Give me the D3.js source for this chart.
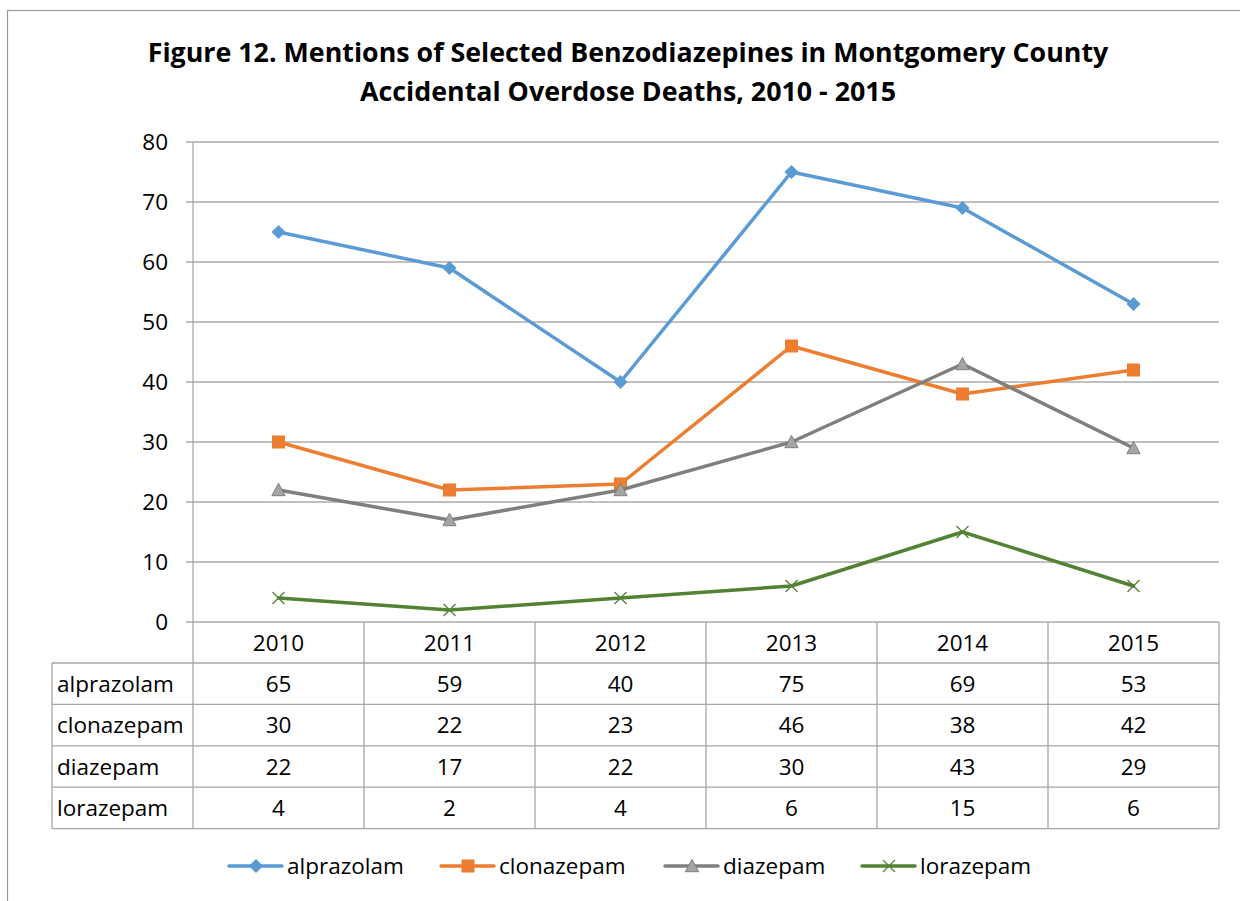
<!DOCTYPE html>
<html>
<head>
<meta charset="utf-8">
<script src="https://cdn.jsdelivr.net/npm/d3@7"></script>
<style>
  body { margin: 0; background: #fff; }
  svg text { font-family: "Open Sans", "Noto Sans", sans-serif; fill: #000; }
</style>
</head>
<body>
<div id="chart"></div>
<script>
// data
const years = ["2010", "2011", "2012", "2013", "2014", "2015"];
const seriesNames = ["alprazolam", "clonazepam", "diazepam", "lorazepam"];
const alprazolam = [65, 59, 40, 75, 69, 53];
const clonazepam = [30, 22, 23, 46, 38, 42];
const diazepam = [22, 17, 22, 30, 43, 29];
const lorazepam = [4, 2, 4, 6, 15, 6];
const yTicks = [0, 10, 20, 30, 40, 50, 60, 70, 80];
const titleLines = ["Figure 12. Mentions of Selected Benzodiazepines in Montgomery County",
    "Accidental Overdose Deaths, 2010 - 2015"];

const series = [
    {name: seriesNames[0], values: alprazolam, color: "#5B9BD5", marker: "diamond"},
    {name: seriesNames[1], values: clonazepam, color: "#ED7D31", marker: "square"},
    {name: seriesNames[2], values: diazepam, color: "#7F7F7F", marker: "triangle"},
    {name: seriesNames[3], values: lorazepam, color: "#548235", marker: "cross"}
];

const W = 1240, H = 901;
const plot = {left: 193, right: 1219, top: 142, bottom: 622};
const rowH = 41.4, headH = 41, tableLeft = 52;
const fs = "22.5px";

const svg = d3.select("#chart").append("svg")
    .attr("width", W)
    .attr("height", H);

// outer frame
svg.append("rect")
    .attr("x", 7.5).attr("y", 10.5)
    .attr("width", W + 20).attr("height", H + 20)
    .attr("fill", "none")
    .attr("stroke", "#9a9a9a")
    .attr("stroke-width", 1.2);

// title
svg.append("g").selectAll("text")
    .data(titleLines)
    .enter()
    .append("text")
    .attr("x", 628)
    .attr("y", (d, i) => 62 + i * 39)
    .attr("text-anchor", "middle")
    .style("font-size", "26.8px")
    .style("font-weight", "bold")
    .text(d => d);

// scales
const x = d3.scaleBand()
    .domain(years)
    .range([plot.left, plot.right]);
const y = d3.scaleLinear()
    .domain([0, 80])
    .range([plot.bottom, plot.top]);

// gridlines
svg.append("g").selectAll("line")
    .data(yTicks)
    .enter()
    .append("line")
    .attr("x1", plot.left - 7)
    .attr("x2", plot.right)
    .attr("y1", d => y(d))
    .attr("y2", d => y(d))
    .attr("stroke", "#ababab")
    .attr("stroke-width", 1.3);

// y axis
const yAxis = svg.append("g")
    .attr("transform", `translate(${plot.left},0)`)
    .call(d3.axisLeft(y).tickValues(yTicks).tickSize(0).tickPadding(25));
yAxis.select(".domain").remove();
yAxis.selectAll("text")
    .style("font-size", fs)
    .style("font-family", "\"Open Sans\", sans-serif");
svg.append("line")
    .attr("x1", plot.left).attr("x2", plot.left)
    .attr("y1", plot.top).attr("y2", plot.bottom)
    .attr("stroke", "#ababab").attr("stroke-width", 1.3);

// data table grid
const tableBottom = plot.bottom + headH + rowH * seriesNames.length;
const grid = svg.append("g")
    .attr("stroke", "#a6a6a6")
    .attr("stroke-width", 1.3);
// vertical lines for categories
const vx = years.map(d => x(d)).concat([plot.right]);
grid.selectAll("line.v")
    .data(vx)
    .enter()
    .append("line")
    .attr("x1", d => d).attr("x2", d => d)
    .attr("y1", plot.bottom).attr("y2", tableBottom);
grid.append("line")
    .attr("x1", tableLeft).attr("x2", tableLeft)
    .attr("y1", plot.bottom + headH).attr("y2", tableBottom);
// horizontal lines
const hy = d3.range(seriesNames.length + 1).map(i => plot.bottom + headH + i * rowH);
grid.selectAll("line.h")
    .data(hy)
    .enter()
    .append("line")
    .attr("x1", tableLeft).attr("x2", plot.right)
    .attr("y1", d => d).attr("y2", d => d);

// x axis labels (table header)
svg.append("g").selectAll("text")
    .data(years)
    .enter()
    .append("text")
    .attr("x", d => x(d) + x.bandwidth() / 2)
    .attr("y", plot.bottom + headH / 2 + 8)
    .attr("text-anchor", "middle")
    .style("font-size", fs)
    .text(d => d);

// table rows
const rows = svg.append("g").selectAll("g")
    .data(series)
    .enter()
    .append("g")
    .attr("transform", (d, i) => `translate(0,${plot.bottom + headH + i * rowH + rowH / 2 + 8})`);
rows.append("text")
    .attr("x", tableLeft + 5)
    .style("font-size", fs)
    .text(d => d.name);
rows.selectAll("text.v")
    .data(d => d.values)
    .enter()
    .append("text")
    .attr("x", (d, i) => x(years[i]) + x.bandwidth() / 2)
    .attr("text-anchor", "middle")
    .style("font-size", fs)
    .text(d => d);

// markers
function drawMarker(g, s, size) {
    if (s.marker === "diamond") {
        g.append("path")
            .attr("d", d3.symbol(d3.symbolSquare, size * size).call())
            .attr("transform", "rotate(45)")
            .attr("fill", s.color);
    } else if (s.marker === "square") {
        g.append("rect")
            .attr("x", -size / 2 - 0.5).attr("y", -size / 2 - 0.5)
            .attr("width", size + 1).attr("height", size + 1)
            .attr("fill", s.color);
    } else if (s.marker === "triangle") {
        const h = size * 0.95, w = size * 1.1;
        g.append("path")
            .attr("d", `M0,${-h / 2 - 1}L${w / 2},${h / 2}L${-w / 2},${h / 2}Z`)
            .attr("fill", "#A5A5A5")
            .attr("stroke", "#7F7F7F")
            .attr("stroke-width", 1);
    } else {
        const r = size / 2;
        g.append("path")
            .attr("d", `M${-r},${-r}L${r},${r}M${-r},${r}L${r},${-r}`)
            .attr("stroke", s.color)
            .attr("stroke-width", 1.3)
            .attr("fill", "none");
    }
}

// lines
const line = d3.line()
    .x((d, i) => x(years[i]) + x.bandwidth() / 2)
    .y(d => y(d));

series.forEach(s => {
    svg.append("path")
        .datum(s.values)
        .attr("d", line)
        .attr("fill", "none")
        .attr("stroke", s.color)
        .attr("stroke-width", 3.5)
        .attr("stroke-linejoin", "round")
        .attr("stroke-linecap", "round");
    s.values.forEach((v, i) => {
        const g = svg.append("g")
            .attr("transform", `translate(${x(years[i]) + x.bandwidth() / 2},${y(v)})`);
        drawMarker(g, s, s.marker === "diamond" ? 10 : 12);
    });
});

// legend
const legendX = [229, 441, 665, 862];
const legend = svg.append("g").selectAll("g")
    .data(series)
    .enter()
    .append("g")
    .attr("transform", (d, i) => `translate(${legendX[i]},866)`);
legend.append("line")
    .attr("x1", 0).attr("x2", 53)
    .attr("stroke", d => d.color)
    .attr("stroke-width", 3.5)
    .attr("stroke-linecap", "round");
legend.each(function(d) {
    const g = d3.select(this).append("g").attr("transform", "translate(27,0)");
    drawMarker(g, d, d.marker === "diamond" ? 10 : 12);
});
legend.append("text")
    .attr("x", 58)
    .attr("y", 8)
    .style("font-size", fs)
    .text(d => d.name);
</script>
</body>
</html>
